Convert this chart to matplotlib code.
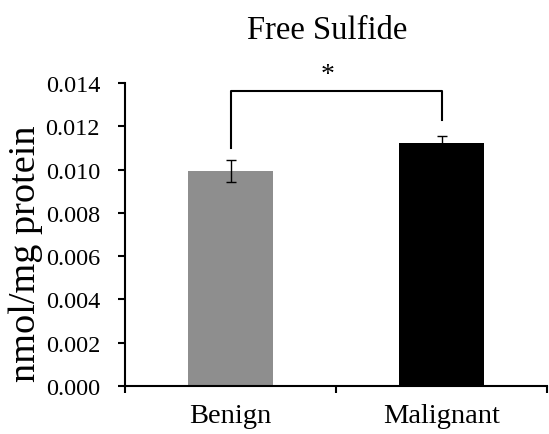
import matplotlib.pyplot as plt

plt.rcParams['font.family'] = ['Liberation Serif', 'DejaVu Serif']

# data
groups = ['Benign', 'Malignant']
means = [0.00993, 0.01123]
errors = [0.0005, 0.0003]
bar_colors = ['#8e8e8e', '#000000']

# significance bracket (left leg end, top, right leg end)
bracket_left = 0.0110
bracket_top = 0.01363
bracket_right = 0.0123

fig = plt.figure(figsize=(5.49, 4.35), dpi=100)
ax = fig.add_axes([0.2277, 0.1103, 0.7687, 0.6966])

x = range(len(groups))
ax.bar(x, means, width=0.4, color=bar_colors)
ax.errorbar(x, means, yerr=errors, fmt='none', ecolor='black',
            elinewidth=1, capsize=3.5, capthick=1)

ax.set_xlim(-0.5, 1.5)
ax.set_ylim(0, 0.014)
ax.set_yticks([0.000, 0.002, 0.004, 0.006, 0.008, 0.010, 0.012, 0.014])
ax.set_yticklabels([f'{v:.3f}' for v in ax.get_yticks()])
ax.set_xticks(list(x))
ax.set_xticklabels(groups)
ax.set_xticks([-0.5, 0.5, 1.5], minor=True)
ax.tick_params(axis='x', which='major', length=0, pad=12, labelsize=20.5)
ax.tick_params(axis='x', which='minor', length=5, width=1.5, direction='out')
ax.tick_params(axis='y', length=5, width=1.5, direction='out', labelsize=17.5, pad=13)

for s in ['top', 'right']:
    ax.spines[s].set_visible(False)
for s in ['left', 'bottom']:
    ax.spines[s].set_linewidth(1.5)

fig.text(0.047, 0.416, 'nmol/mg protein', fontsize=27.5, rotation=90,
         ha='center', va='center')
fig.text(0.5965, 0.910, 'Free Sulfide', fontsize=23.5, ha='center', va='baseline')

# bracket + asterisk
ax.plot([0, 0, 1, 1], [bracket_left, bracket_top, bracket_top, bracket_right],
        color='black', linewidth=1.5, clip_on=False)
ax.text(0.46, bracket_top + 0.0002, '*', fontsize=20, ha='center', va='bottom')

plt.savefig('out.png', dpi=100)
